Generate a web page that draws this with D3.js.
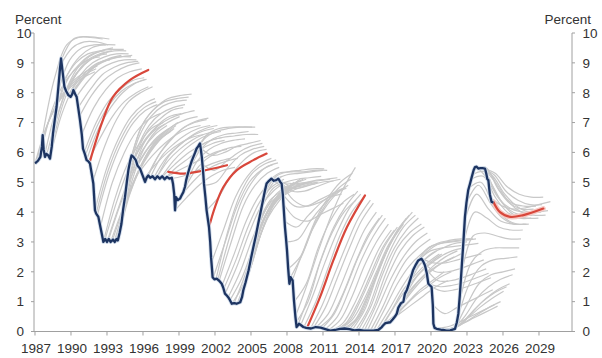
<!DOCTYPE html>
<html><head><meta charset="utf-8">
<script src="https://cdn.jsdelivr.net/npm/d3@7"></script>
<style>
html,body{margin:0;padding:0;background:#fff;}
svg{display:block;font-family:"Liberation Sans",Arial,sans-serif;}
</style></head>
<body>
<svg id="chart" width="602" height="358"></svg>
<script>
// ---- DATA ----
const xTicks = [1987,1990,1993,1996,1999,2002,2005,2008,2011,2014,2017,2020,2023,2026,2029];
const yTicks = [0,1,2,3,4,5,6,7,8,9,10];
const yLabel = "Percent";

// Actual rate [year, percent]
const actual = [
[1987.0,5.63],[1987.25,5.72],[1987.45,5.85],[1987.58,6.2],[1987.64,6.58],[1987.72,6.1],[1987.83,5.85],[1987.95,5.95],
[1988.1,5.9],[1988.25,5.79],[1988.4,6.2],[1988.5,6.63],[1988.65,7.1],[1988.8,7.53],[1988.95,8.2],[1989.08,8.8],
[1989.17,9.15],[1989.3,8.7],[1989.45,8.2],[1989.6,8.05],[1989.78,7.92],[1989.97,7.86],[1990.1,7.95],[1990.2,8.09],
[1990.35,7.95],[1990.47,7.86],[1990.6,7.5],[1990.75,7.08],[1990.9,6.6],[1991.0,6.13],[1991.15,5.95],[1991.3,5.74],
[1991.45,5.7],[1991.58,5.63],[1991.72,5.3],[1991.86,4.96],[1992.0,4.06],[1992.1,3.95],[1992.28,3.84],[1992.4,3.6],
[1992.56,3.28],[1992.7,3.0],[1992.85,3.1],[1993.0,3.0],[1993.15,3.1],[1993.3,3.0],[1993.5,3.08],[1993.65,3.0],
[1993.8,3.1],[1993.9,3.05],[1994.05,3.3],[1994.2,3.6],[1994.35,4.1],[1994.5,4.5],[1994.65,5.0],[1994.78,5.4],
[1994.92,5.7],[1995.05,5.9],[1995.2,5.85],[1995.4,5.74],[1995.55,5.55],[1995.75,5.46],[1995.95,5.25],[1996.17,5.01],
[1996.3,5.15],[1996.44,5.23],[1996.6,5.15],[1996.8,5.2],[1997.0,5.1],[1997.2,5.2],[1997.4,5.12],[1997.6,5.2],
[1997.8,5.1],[1998.0,5.18],[1998.2,5.12],[1998.4,5.15],[1998.5,4.95],[1998.6,4.6],[1998.67,4.06],[1998.75,4.5],
[1998.9,4.4],[1999.08,4.45],[1999.2,4.55],[1999.36,4.67],[1999.5,4.85],[1999.6,5.07],[1999.75,5.3],[1999.9,5.51],
[2000.05,5.7],[2000.2,5.85],[2000.35,6.0],[2000.47,6.13],[2000.6,6.2],[2000.75,6.3],[2000.82,6.1],[2000.9,5.85],
[2001.0,5.4],[2001.08,4.96],[2001.2,4.5],[2001.3,4.06],[2001.5,3.5],[2001.6,3.0],[2001.67,2.49],[2001.75,2.1],
[2001.8,1.82],[2001.95,1.75],[2002.14,1.77],[2002.35,1.7],[2002.56,1.6],[2002.7,1.45],[2002.83,1.27],[2003.0,1.2],
[2003.1,1.15],[2003.25,1.05],[2003.4,0.93],[2003.6,0.95],[2003.8,0.93],[2004.1,0.98],[2004.25,1.15],[2004.36,1.38],
[2004.55,1.65],[2004.8,2.05],[2005.0,2.45],[2005.2,2.83],[2005.4,3.2],[2005.6,3.61],[2005.8,4.0],[2006.0,4.4],
[2006.15,4.7],[2006.3,4.96],[2006.5,5.05],[2006.7,5.12],[2006.9,5.05],[2007.1,5.07],[2007.28,5.12],[2007.45,5.0],
[2007.55,4.96],[2007.65,4.6],[2007.7,4.28],[2007.83,3.5],[2007.92,3.1],[2008.0,2.72],[2008.1,2.1],[2008.2,1.6],
[2008.3,1.82],[2008.4,1.75],[2008.47,1.71],[2008.58,1.04],[2008.7,0.5],[2008.8,0.15],[2008.9,0.2],[2009.0,0.26],
[2009.2,0.2],[2009.36,0.15],[2009.6,0.12],[2010.0,0.1],[2010.4,0.15],[2010.8,0.13],[2011.2,0.08],[2011.6,0.03],
[2012.0,0.05],[2012.4,0.09],[2012.8,0.1],[2013.2,0.08],[2013.6,0.04],[2014.0,0.05],[2014.4,0.03],[2014.8,0.03],
[2015.2,0.03],[2015.6,0.05],[2015.9,0.15],[2016.0,0.2],[2016.2,0.28],[2016.6,0.31],[2016.8,0.4],[2017.0,0.5],
[2017.15,0.6],[2017.28,0.8],[2017.5,0.95],[2017.7,1.0],[2017.83,1.27],[2018.0,1.4],[2018.25,1.71],[2018.5,2.05],
[2018.75,2.25],[2018.94,2.38],[2019.2,2.44],[2019.35,2.35],[2019.5,2.21],[2019.65,1.95],[2019.78,1.6],[2019.9,1.55],
[2020.05,1.49],[2020.15,0.9],[2020.2,0.26],[2020.3,0.12],[2020.47,0.09],[2020.8,0.06],[2021.0,0.05],[2021.3,0.03],
[2021.6,0.04],[2022.0,0.09],[2022.15,0.3],[2022.28,0.59],[2022.4,1.2],[2022.56,2.16],[2022.7,3.0],[2022.83,3.84],
[2022.95,4.3],[2023.1,4.73],[2023.25,4.95],[2023.4,5.18],[2023.55,5.4],[2023.67,5.51],[2023.8,5.52],[2023.94,5.46],
[2024.1,5.47],[2024.3,5.47],[2024.5,5.46],[2024.6,5.3],[2024.7,5.1],[2024.78,5.07],[2024.9,4.6],[2025.05,4.34],
[2025.2,4.32]
];

// Gray forward curves: [start year, value at start, +1y, +2y, ...]
const grayCurves = [
[1987.0,5.63,6.9,7.7,8.2,8.5,8.7],[1987.1,5.65,7.0,7.8,8.3,8.6,8.8],[1987.2,5.7,7.1,7.9,8.4,8.7,8.9],
[1987.4,5.8,7.4,8.3,8.8,9.1,9.2],[1987.64,6.58,8.5,9.6,9.85,9.85,9.8],[1987.8,5.9,7.5,8.5,9.0,9.3,9.4],
[1988.0,5.95,7.4,8.4,8.9,9.2,9.3],[1988.25,5.8,7.3,8.2,8.7,9.0,9.1],[1988.4,6.2,7.7,8.6,9.1,9.3,9.4],
[1988.5,6.63,8.0,8.8,9.2,9.4,9.5],[1988.7,7.3,8.6,9.2,9.5,9.6,9.6],
[1988.9,8.0,9.1,9.5,9.6,9.6],[1989.1,8.9,9.5,9.7,9.7,9.6],[1989.2,9.1,9.8,9.88,9.85,9.8],
[1989.4,8.4,9.0,9.3,9.4,9.45,9.45],[1989.6,8.05,8.7,9.1,9.3,9.4,9.4],[1989.8,7.92,8.6,9.0,9.2,9.3,9.3],
[1990.0,7.9,8.5,8.9,9.1,9.2,9.2],[1990.1,7.95,8.5,8.9,9.1,9.2,9.25],[1990.2,8.09,8.6,8.95,9.15,9.25],
[1990.45,7.86,8.4,8.8,9.0,9.1,9.1],[1990.6,7.5,8.1,8.6,8.85,9.0,9.05],
[1990.7,7.2,7.9,8.4,8.7,8.9,9.0],[1990.9,6.6,7.5,8.1,8.5,8.7,8.8],[1991.1,6.0,7.0,7.7,8.1,8.4,8.5],
[1991.2,5.9,6.9,7.6,8.05,8.3,8.45],[1991.3,5.74,6.8,7.5,8.0,8.3,8.45],[1991.45,5.7,6.5,7.2,7.7,8.0,8.2],
[1991.8,5.0,6.2,7.1,7.7,8.0,8.2],[1992.0,4.06,5.5,6.5,7.2,7.6,7.8],[1992.1,3.95,5.4,6.4,7.1,7.5,7.7],
[1992.2,3.9,5.3,6.3,7.0,7.4,7.6],[1992.45,3.5,5.0,6.0,6.7,7.1,7.3],[1992.7,3.0,4.5,5.6,6.3,6.8,7.0],
[1992.85,3.1,4.4,5.5,6.2,6.7,6.95],
[1993.0,3.0,4.2,5.3,6.1,6.6,6.9],[1993.15,3.1,4.3,5.3,6.0,6.5,6.8],[1993.3,3.0,4.1,5.1,5.9,6.4,6.7],
[1993.45,3.05,4.2,5.2,5.95,6.45,6.75],[1993.6,3.0,4.3,5.3,6.0,6.5,6.8],[1993.75,3.05,4.5,5.5,6.2,6.6,6.9],
[1993.9,3.05,4.6,5.6,6.3,6.7,7.0],[1994.05,3.3,5.0,6.1,6.7,7.0,7.2],[1994.2,3.6,5.4,6.4,6.9,7.2,7.3],
[1994.35,4.1,5.8,6.7,7.1,7.4,7.5],[1994.5,4.5,6.1,6.9,7.3,7.5,7.6],[1994.65,5.0,6.5,7.2,7.55,7.7,7.75],
[1994.8,5.4,6.8,7.4,7.7,7.8,7.85],[1995.05,5.9,7.0,7.5,7.8,7.9,7.95],
[1995.3,5.8,6.5,6.9,7.15,7.3,7.4],[1995.55,5.55,6.2,6.6,6.9,7.1,7.2],[1995.8,5.4,5.9,6.3,6.6,6.8,6.9],
[1996.05,5.1,5.6,6.0,6.3,6.5,6.6],[1996.3,5.15,5.9,6.4,6.8,7.0,7.1],[1996.45,5.23,6.0,6.5,6.85,7.05,7.15],
[1996.6,5.15,5.9,6.3,6.6,6.8,6.9],[1996.9,5.15,5.8,6.2,6.5,6.7,6.8],[1997.05,5.1,5.7,6.1,6.4,6.6,6.7],
[1997.2,5.2,5.9,6.3,6.6,6.8,6.9],[1997.5,5.15,5.7,6.1,6.4,6.6,6.7],[1997.65,5.2,5.6,5.95,6.2,6.4,6.5],
[1997.8,5.1,5.5,5.8,6.1,6.3,6.4],[1998.0,5.18,5.4,5.6,5.8,6.0,6.1],[1998.3,5.12,5.2,5.35,5.55,5.7,5.8],
[1998.67,4.06,4.5,4.9,5.2,5.4,5.5],[1998.9,4.4,4.9,5.3,5.55,5.7,5.8],[1999.2,4.55,5.3,5.75,6.0,6.15,6.2],
[1999.5,4.85,5.7,6.1,6.3,6.4,6.45],[1999.8,5.35,6.1,6.45,6.6,6.65,6.7],[2000.1,5.75,6.45,6.7,6.8,6.85,6.85],
[2000.35,6.0,6.6,6.8,6.85,6.85,6.85],[2000.6,6.2,6.4,6.5,6.55,6.6,6.6],[2000.8,6.15,5.9,6.0,6.2,6.3,6.4],
[2000.95,5.6,5.4,5.7,6.0,6.2,6.3],
[2001.1,4.9,5.0,5.5,5.9,6.1,6.2],[2001.3,4.06,4.5,5.2,5.7,6.0,6.1],[2001.7,2.3,3.4,4.5,5.2,5.6,5.8],
[2001.85,1.8,3.0,4.2,5.0,5.4,5.6],[2002.1,1.77,3.4,4.6,5.3,5.6,5.75],[2002.25,1.75,3.2,4.4,5.1,5.5,5.65],
[2002.35,1.7,3.0,4.2,4.9,5.3,5.5],[2002.6,1.55,2.6,3.7,4.5,5.0,5.2],[2002.75,1.45,2.4,3.5,4.35,4.85,5.1],
[2002.85,1.27,2.2,3.3,4.2,4.7,5.0],[2003.1,1.15,2.0,3.1,4.0,4.6,4.9],[2003.25,1.05,1.8,2.9,3.9,4.5,4.85],
[2003.4,0.93,1.6,2.8,3.8,4.4,4.8],[2003.6,0.95,2.0,3.3,4.2,4.7,5.0],[2003.85,0.93,2.0,3.3,4.2,4.7,5.0],
[2003.95,0.95,2.1,3.4,4.3,4.75,5.05],[2004.1,0.98,2.3,3.6,4.4,4.8,5.1],[2004.35,1.38,2.9,4.0,4.6,4.9,5.1],
[2004.6,1.7,3.2,4.2,4.7,4.95,5.1],[2004.85,2.1,3.5,4.3,4.7,4.9,5.0],[2005.0,2.45,3.7,4.35,4.7,4.9,5.0],
[2005.1,2.6,3.8,4.4,4.7,4.9,5.0],[2005.35,3.1,4.0,4.45,4.7,4.85,4.95],[2005.5,3.4,4.25,4.6,4.8,4.9,5.0],
[2005.6,3.6,4.4,4.7,4.85,4.95,5.0],[2005.85,4.1,4.8,5.0,5.1,5.15,5.2],[2006.0,4.4,5.05,5.25,5.3,5.35,5.4],
[2006.1,4.6,5.2,5.35,5.4,5.45,5.45],[2006.35,5.0,5.3,5.35,5.35,5.4,5.4],[2006.6,5.1,5.0,4.95,5.0,5.05,5.1],
[2006.9,5.05,4.8,4.8,4.9,5.0,5.05],[2007.2,5.1,4.9,4.95,5.05,5.1,5.15],[2007.45,5.0,4.7,4.7,4.85,5.0,5.1],
[2007.55,4.96,4.4,4.2,4.3,4.5,4.6],[2007.65,4.6,4.2,4.2,4.4,4.6,4.8],[2007.7,4.28,3.8,3.7,3.9,4.1,4.3],
[2007.8,3.7,3.5,3.9,4.3,4.6,4.8],[2007.95,3.0,3.1,3.7,4.2,4.6,4.8],
[2008.1,2.1,2.5,3.4,4.1,4.6,4.9],[2008.3,1.82,2.6,3.6,4.3,4.8,5.1],[2008.45,1.72,2.8,3.8,4.5,5.0,5.3],
[2008.6,1.0,1.6,2.8,3.7,4.3,4.6],[2008.7,0.5,1.6,2.8,3.9,4.8,5.5],[2008.75,0.3,1.0,2.3,3.3,4.0,4.4],
[2008.9,0.2,1.3,2.5,3.5,4.2,4.7],[2009.15,0.22,1.2,2.3,3.3,4.1,4.6],[2009.4,0.15,1.0,2.1,3.2,4.0,4.5],
[2009.95,0.1,0.9,1.9,2.9,3.8,4.4],[2010.2,0.12,0.8,1.8,2.8,3.7,4.3],[2010.45,0.15,0.6,1.5,2.5,3.4,4.0],
[2010.7,0.14,0.5,1.3,2.3,3.2,3.8],[2010.95,0.12,0.6,1.5,2.5,3.3,3.9],[2011.2,0.08,0.5,1.4,2.4,3.2,3.8],
[2011.45,0.05,0.4,1.2,2.2,3.0,3.6],[2011.7,0.03,0.3,1.0,1.9,2.8,3.4],[2011.95,0.05,0.3,1.0,1.9,2.8,3.4],
[2012.2,0.07,0.35,1.1,2.0,2.9,3.5],[2012.45,0.09,0.4,1.1,2.0,2.9,3.5],[2012.7,0.1,0.4,1.2,2.1,3.0,3.6],
[2012.95,0.09,0.5,1.4,2.4,3.2,3.8],[2013.2,0.08,0.6,1.6,2.6,3.4,3.9],[2013.45,0.06,0.7,1.8,2.8,3.5,4.0],
[2013.7,0.04,0.7,1.8,2.8,3.5,3.9],[2013.95,0.05,0.8,1.9,2.8,3.4,3.8],[2014.2,0.04,0.8,1.9,2.8,3.3,3.6],
[2014.45,0.03,0.9,1.9,2.7,3.2,3.5],[2014.7,0.03,0.9,1.8,2.5,3.0,3.3],[2014.95,0.03,0.8,1.7,2.4,2.8,3.1],
[2015.2,0.03,0.8,1.6,2.2,2.6,2.9],[2015.45,0.04,0.7,1.4,2.0,2.4,2.7],[2015.7,0.06,0.7,1.4,1.9,2.3,2.6],
[2015.9,0.15,0.8,1.4,1.9,2.3,2.6],
[2016.1,0.25,0.6,1.0,1.4,1.7,2.0],[2016.4,0.3,0.6,0.9,1.2,1.5,1.7],[2016.7,0.35,0.8,1.2,1.5,1.8,2.0],
[2016.95,0.5,1.1,1.6,2.0,2.3,2.5],[2017.2,0.7,1.3,1.8,2.2,2.5,2.7],[2017.5,0.95,1.5,1.9,2.2,2.4,2.6],
[2017.75,1.1,1.8,2.2,2.5,2.7,2.8],[2018.0,1.4,2.2,2.6,2.8,2.95,3.0],[2018.25,1.71,2.5,2.85,3.0,3.05,3.1],
[2018.5,2.05,2.7,2.95,3.05,3.1,3.1],[2018.75,2.25,2.8,2.95,3.0,3.05,3.1],[2018.95,2.38,2.7,2.8,2.85,2.9,2.95],
[2019.2,2.44,2.3,2.3,2.4,2.5,2.6],[2019.4,2.3,2.0,2.0,2.1,2.25,2.4],
[2019.6,2.1,1.7,1.7,1.8,1.95,2.1],[2019.8,1.6,1.5,1.55,1.65,1.8,1.95],[2020.0,1.5,1.35,1.4,1.5,1.65,1.8],
[2020.15,0.9,0.6,0.8,1.0,1.2,1.4],
[2020.3,0.12,0.15,0.3,0.5,0.7,0.9],[2020.55,0.08,0.1,0.25,0.45,0.65,0.85],[2020.8,0.06,0.1,0.3,0.55,0.8,1.0],
[2021.05,0.05,0.15,0.45,0.8,1.1,1.35],[2021.3,0.04,0.2,0.6,1.0,1.3,1.5],[2021.55,0.04,0.25,0.7,1.1,1.4,1.6],
[2021.8,0.06,0.5,1.1,1.5,1.75,1.9],[2022.0,0.09,0.9,1.6,1.9,2.0,2.1],[2022.2,0.4,1.6,2.2,2.4,2.45,2.5],
[2022.35,0.9,2.3,2.7,2.8,2.8,2.8],[2022.5,1.8,3.2,3.3,3.2,3.1,3.1],[2022.65,2.8,4.0,3.8,3.5,3.4,3.4],
[2022.8,3.7,4.6,4.1,3.7,3.6,3.6],[2022.95,4.3,4.9,4.3,3.8,3.6,3.6],[2023.15,4.8,5.0,4.3,3.8,3.6,3.6],
[2023.35,5.1,5.2,4.5,4.0,3.8,3.8],[2023.45,5.25,5.35,4.6,4.1,3.9,3.9],[2023.55,5.4,5.5,4.8,4.3,4.1,4.1],
[2023.75,5.52,5.4,4.7,4.3,4.2,4.2],[2023.95,5.46,5.0,4.3,3.9,3.8,3.8],[2024.15,5.47,5.2,4.6,4.2,4.0,4.0],
[2024.25,5.47,5.25,4.7,4.4,4.25,4.25],[2024.35,5.47,5.3,4.85,4.6,4.5,4.5],[2024.55,5.4,4.9,4.3,4.0,3.9,3.9],
[2024.75,5.1,4.4,4.1,4.0,4.0,4.05],[2024.95,4.5,4.2,4.1,4.15,4.25,4.35]
];

// Highlighted forward curves [year, percent]
const redCurves = [
[[1991.58,5.7],[1992.56,6.97],[1993.5,7.86],[1994.9,8.42],[1996.44,8.76]],
[[1998.1,5.35],[1999.36,5.29],[2000.47,5.35],[2001.86,5.46],[2003.0,5.57]],
[[2001.5,3.5],[2002.0,4.17],[2002.7,4.84],[2003.8,5.4],[2005.2,5.74],[2006.3,5.96]],
[[2009.7,0.15],[2010.75,1.15],[2011.86,2.38],[2013.0,3.5],[2014.5,4.56]],
[[2025.2,4.34],[2025.75,4.0],[2026.6,3.84],[2027.7,3.9],[2029.36,4.12]]
];

// ---- DRAW ----
const svg = d3.select("#chart");
const x = d3.scaleLinear().domain([1986.917, 2031.75]).range([34, 572]);
const y = d3.scaleLinear().domain([0, 10]).range([331.5, 33]);
const textColor = "#333";
const axisColor = "#a0a0a0";

svg.append("defs").append("clipPath").attr("id","clip")
  .append("rect").attr("x",34).attr("y",20).attr("width",538).attr("height",312);

const line = d3.line().x(d => x(d[0])).y(d => y(d[1])).curve(d3.curveCatmullRom.alpha(0.5));
const plot = svg.append("g").attr("clip-path","url(#clip)");

plot.append("g").selectAll("path").data(grayCurves).join("path")
  .attr("d", c => line(c.slice(1).map((v,i) => [c[0]+i, v])))
  .attr("fill","none").attr("stroke","#c8c8c8").attr("stroke-width",1.2);

// halo for the latest highlighted curve
plot.append("path").attr("d", line(redCurves[4]))
  .attr("fill","none").attr("stroke","#f6c9c4").attr("stroke-width",5).attr("stroke-linecap","round");

plot.append("g").selectAll("path").data(redCurves).join("path")
  .attr("d", line).attr("fill","none").attr("stroke","#d8473b").attr("stroke-width",2.2)
  .attr("stroke-linecap","round");

const lineLin = d3.line().x(d => x(d[0])).y(d => y(d[1]));
plot.append("path").attr("d", lineLin(actual))
  .attr("fill","none").attr("stroke","#d3deec").attr("stroke-width",4).attr("stroke-linejoin","round");
plot.append("path").attr("d", lineLin(actual))
  .attr("fill","none").attr("stroke","#1d3461").attr("stroke-width",2.3).attr("stroke-linejoin","round");

// Axes
const g = svg.append("g");
g.append("line").attr("x1",34).attr("x2",34).attr("y1",y(10)).attr("y2",y(0)).attr("stroke",axisColor);
g.append("line").attr("x1",572).attr("x2",572).attr("y1",y(10)).attr("y2",y(0)).attr("stroke",axisColor);
g.append("line").attr("x1",34).attr("x2",572).attr("y1",y(0)).attr("y2",y(0)).attr("stroke",axisColor);

g.selectAll(".lt").data(yTicks).join("line").attr("x1",31).attr("x2",34)
  .attr("y1",d=>y(d)).attr("y2",d=>y(d)).attr("stroke",axisColor);
g.selectAll(".rt").data(yTicks).join("line").attr("x1",572).attr("x2",575)
  .attr("y1",d=>y(d)).attr("y2",d=>y(d)).attr("stroke",axisColor);
g.selectAll(".xt").data(xTicks).join("line").attr("x1",d=>x(d)).attr("x2",d=>x(d))
  .attr("y1",y(0)).attr("y2",y(0)+4).attr("stroke",axisColor);

const fs = "13.5px";
g.selectAll(".ll").data(yTicks).join("text").attr("x",16.5).attr("y",d=>y(d)+4.8)
  .attr("font-size",fs).attr("fill",textColor).text(d=>d);
g.selectAll(".rl").data(yTicks).join("text").attr("x",582.5).attr("y",d=>y(d)+4.8)
  .attr("font-size",fs).attr("fill",textColor).text(d=>d);
g.selectAll(".xl").data(xTicks).join("text").attr("x",d=>x(d)+1).attr("y",353)
  .attr("text-anchor","middle").attr("font-size",fs).attr("fill",textColor).text(d=>d);

g.append("text").attr("x",15).attr("y",24).attr("font-size",fs).attr("fill",textColor).text(yLabel);
g.append("text").attr("x",591).attr("y",24).attr("text-anchor","end").attr("font-size",fs).attr("fill",textColor).text(yLabel);
</script>
</body></html>
